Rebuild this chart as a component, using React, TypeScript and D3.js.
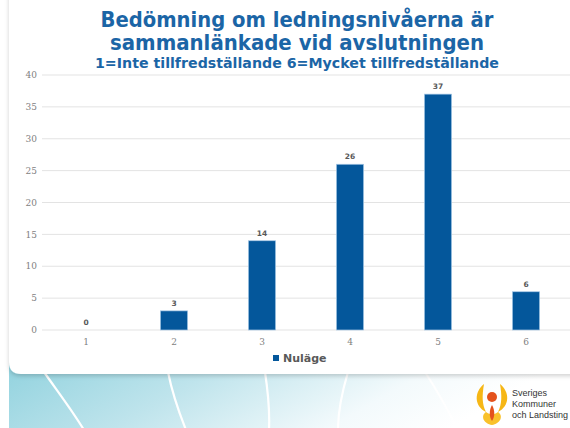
import React from 'react';
import * as d3 from 'd3';

const categories = ['1', '2', '3', '4', '5', '6'];
const values = [0, 3, 14, 26, 37, 6];
const yTicks = [0, 5, 10, 15, 20, 25, 30, 35, 40];
const seriesName = 'Nuläge';
const titleLines = ['Bedömning om ledningsnivåerna är', 'sammanlänkade vid avslutningen'];
const subtitle = '1=Inte tillfredställande 6=Mycket tillfredställande';
const logoLines = ['Sveriges', 'Kommuner', 'och Landsting'];

const width = 570;
const height = 428;
const plotLeft = 42;
const plotRight = 570;
const plotTop = 75;
const plotBottom = 330;

const App: React.FC = () => {
  const x = d3.scaleBand<string>()
    .domain(categories)
    .range([plotLeft, plotRight])
    .paddingInner(0.69)
    .paddingOuter(0.345);

  const y = d3.scaleLinear()
    .domain([0, 40])
    .range([plotBottom, plotTop]);

  const titleColor = '#1b65a6';
  const barColor = '#04579b';
  const labelColor = '#595959';

  // white decorative curves on the teal footer
  const curves = [
    'M44,372 C58,392 72,410 84,430',
    'M168,372 C172,392 178,410 186,430',
    'M265,372 C268,392 270,410 269,430',
    'M348,372 C342,392 338,410 338,430',
    'M425,372 C438,392 448,410 458,430',
  ];

  return (
    <svg width={width} height={height} style={{ position: 'absolute', left: 0, top: 0 }}
      fontFamily="'DejaVu Sans', sans-serif">
      <defs>
        <linearGradient id="footer" x1="0" y1="0" x2="1" y2="0.3">
          <stop offset="0" stopColor="#86cedb" />
          <stop offset="0.45" stopColor="#bfe4ec" />
          <stop offset="0.8" stopColor="#f3fafc" />
          <stop offset="1" stopColor="#ffffff" />
        </linearGradient>
        <filter id="shadow" x="-5%" y="-5%" width="110%" height="115%">
          <feDropShadow dx="0" dy="2" stdDeviation="2" floodColor="#000" floodOpacity="0.18" />
        </filter>
      </defs>

      <rect x={0} y={0} width={width} height={height} fill="#fff" />
      <rect x={9} y={330} width={width - 9} height={height - 330} fill="url(#footer)" />
      {curves.map((d, i) => (
        <path key={i} d={d} fill="none" stroke="#fff" strokeWidth={2.2} />
      ))}

      {/* card */}
      <path
        d={`M9,-10 H580 V374 H21 Q9,374 9,362 Z`}
        fill="#fff"
        filter="url(#shadow)"
      />

      {/* titles */}
      <text x={297} y={27} textAnchor="middle" fill={titleColor} fontWeight="bold" fontSize={21}
        textLength={393} lengthAdjust="spacingAndGlyphs">{titleLines[0]}</text>
      <text x={297} y={50} textAnchor="middle" fill={titleColor} fontWeight="bold" fontSize={21}
        textLength={374} lengthAdjust="spacingAndGlyphs">{titleLines[1]}</text>
      <text x={297} y={68} textAnchor="middle" fill={titleColor} fontWeight="bold" fontSize={14}
        textLength={404} lengthAdjust="spacingAndGlyphs">{subtitle}</text>

      {/* grid + y ticks */}
      {yTicks.map(t => (
        <g key={t}>
          <line x1={plotLeft} x2={plotRight} y1={y(t)} y2={y(t)} stroke="#e3e3e3" strokeWidth={1} />
          <text x={37} y={y(t)} dy="0.35em" textAnchor="end" fontSize={9}
            fontFamily="'DejaVu Serif', serif" fill="#7f7f7f">{t}</text>
        </g>
      ))}

      {/* bars */}
      {categories.map((c, i) => (
        <g key={c}>
          {values[i] > 0 && (
            <rect
              x={x(c)}
              y={y(values[i])}
              width={x.bandwidth()}
              height={y(0) - y(values[i])}
              fill={barColor}
              stroke="#a9c9e6"
              strokeWidth={0.7}
            />
          )}
          <text x={(x(c) || 0) + x.bandwidth() / 2} y={y(values[i]) - 5} textAnchor="middle"
            fontSize={7.5} fontWeight="bold" fill={labelColor}>{values[i]}</text>
          <text x={(x(c) || 0) + x.bandwidth() / 2} y={plotBottom + 15} textAnchor="middle"
            fontSize={9} fontFamily="'DejaVu Serif', serif" fill="#7f7f7f">{c}</text>
        </g>
      ))}

      {/* legend */}
      <rect x={273} y={355} width={6} height={6} fill={barColor} />
      <text x={283} y={362} fontSize={11} fontWeight="bold" fill={labelColor}>{seriesName}</text>

      {/* logo */}
      <g>
        <path d="M484,384 C474,392 474,406 486,412 C482,404 482,396 484,384 Z" fill="#f6b716" />
        <path d="M500,384 C510,392 510,406 498,412 C502,404 502,396 500,384 Z" fill="#f6b716" />
        <path d="M486,412 C480,416 484,424 492,425 C500,424 504,416 498,412 C494,415 490,415 486,412 Z" fill="#f9c12b" />
        <circle cx={492} cy={397} r={5} fill="#e4521c" />
        <path d="M492,405 C489,410 489,417 492,421 C495,417 495,410 492,405 Z" fill="#e4521c" />
        {logoLines.map((l, i) => (
          <text key={l} x={512} y={396 + i * 11} fontSize={9}
            fontFamily="'Liberation Sans', Arial, sans-serif" fill="#333">{l}</text>
        ))}
      </g>
    </svg>
  );
};

export default App;
